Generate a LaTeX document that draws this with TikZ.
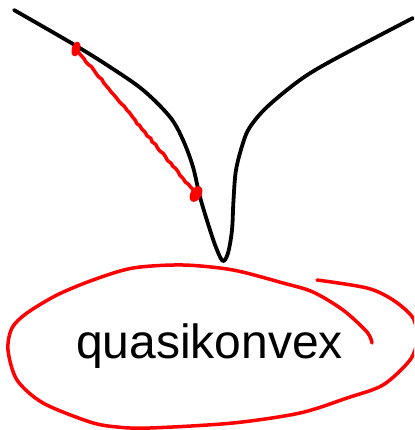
\documentclass[tikz,border=0pt]{standalone}
\usepackage{fontspec}
\setmainfont{Liberation Sans}
\usetikzlibrary{decorations.pathmorphing}
\begin{document}
\begin{tikzpicture}[x=1pt,y=-1pt,
  curveline/.style={black,line width=3.8pt,line cap=round,line join=round},
  redline/.style={red,line width=3.5pt,line cap=round,line join=round},
  reddot/.style={fill=red,draw=none}]
\useasboundingbox (0,0) rectangle (414,430);
\clip (0,0) rectangle (414,430);
% function graph
\draw[curveline] plot[smooth,tension=0.55] coordinates {
  (14,10) (73,44) (110,67) (143,90) (170,117) (183,140) (193,167) (200,197)
  (210,230) (217,250) (223,261) (228,253) (232,230) (233.5,200) (236,170)
  (243,143) (250,127) (267,107) (300,80) (333,60) (413,18)};
% chord
\coordinate (p) at (76,49);
\coordinate (q) at (196,194);
\draw[redline,decorate,decoration={random steps,segment length=4pt,amplitude=0.7pt}] (p) -- (q);
\fill[reddot,rotate around={-15:(p)}] (p) ellipse [x radius=4.2pt,y radius=7.5pt];
\fill[reddot,rotate around={-30:(q)}] (q) ellipse [x radius=5.5pt,y radius=8.5pt];
% label
\node[anchor=base,inner sep=0pt,font=\fontsize{48}{56}\selectfont] (lbl) at (209.5,358) {quasikonvex};
% hand drawn loop
\draw[redline] plot[smooth,tension=0.5] coordinates {
  (317,280) (367,288) (393,300) (413,318) (417,340) (410,360) (383,385)
  (347,398) (300,413) (233,423) (150,428) (117,427) (90,422) (43,403)
  (17,380) (8,350) (12,328) (27,313) (57,295) (93,280) (133,268) (183,265)
  (233,270) (283,283) (313,292) (343,310) (367,332) (372,343)};
\end{tikzpicture}
\end{document}
